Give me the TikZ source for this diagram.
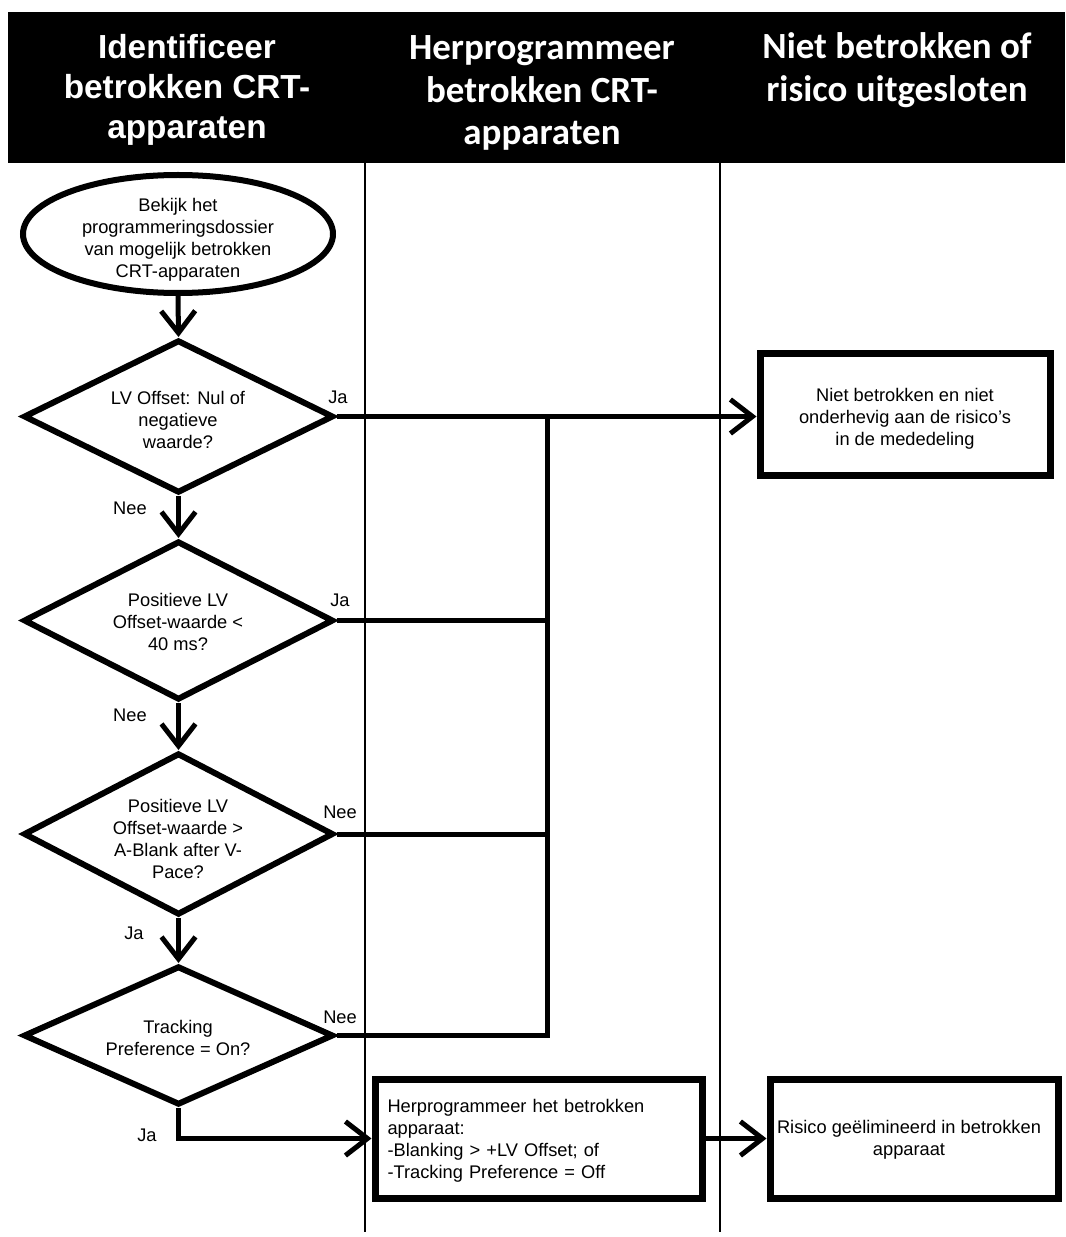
\documentclass[tikz,border=0pt]{standalone}
\usepackage{fontspec}
\setmainfont{Liberation Sans}
\newfontfamily\calib{Carlito}
\usetikzlibrary{shapes.geometric,arrows.meta}
\newdimen\pxu \pxu=0.75pt
\begin{document}
\begin{tikzpicture}[x=0.75pt,y=-0.75pt,
  conn/.style={line width=5\pxu},
  arr/.style={conn,-{Straight Barb[length=16.5pt,width=25.5pt]}},
  dia/.style={draw,diamond,line width=6\pxu,inner sep=0pt,minimum width=310\pxu},
  box/.style={draw,rectangle,line width=7\pxu,inner sep=0pt},
  body/.style={font=\fontsize{13.7pt}{16.5pt}\selectfont,align=center,inner sep=0pt},
  lbl/.style={font=\fontsize{13.7pt}{16.5pt}\selectfont,inner sep=0pt},
  hdA/.style={text=white,font=\fontsize{25pt}{30pt}\selectfont\bfseries,align=center,inner sep=0pt},
  hdB/.style={text=white,font=\fontsize{27.7pt}{32pt}\selectfont\calib\bfseries,align=center,inner sep=0pt},
  lane/.style={line width=1.5\pxu}]
\useasboundingbox (0,0) rectangle (1065,1237);
% header band
\fill[black] (8,12) rectangle (1065,163);
\node[hdA] (h1) at (187,90) {Identificeer\\betrokken CRT-\\apparaten};
\node[hdB] (h2) at (542,93) {Herprogrammeer\\betrokken CRT-\\apparaten};
\node[hdB] (h3) at (897,70) {Niet betrokken of\\risico uitgesloten};
% lanes
\draw[lane] (365,163) -- (365,1232);
\draw[lane] (720,163) -- (720,1232);
% shapes
\node[draw,ellipse,line width=6\pxu,minimum width=310\pxu,minimum height=118\pxu,inner sep=0pt] (ell) at (178,234) {};
\node[body] (tell) at (178,240) {Bekijk het\\programmeringsdossier\\van mogelijk betrokken\\CRT-apparaten};
\node[dia,minimum height=153\pxu] (d1) at (178.5,416.5) {};
\node[body] (td1) at (178,420) {LV Offset: Nul of\\negatieve\\waarde?};
\node[dia,minimum height=159\pxu] (d2) at (178.5,620.5) {};
\node[body] (td2) at (178,622) {Positieve LV\\Offset-waarde <\\40 ms?};
\node[dia,minimum height=162\pxu] (d3) at (178.5,834) {};
\node[body] (td3) at (178,839) {Positieve LV\\Offset-waarde >\\A-Blank after V-\\Pace?};
\node[dia,minimum height=139\pxu] (d4) at (178.5,1035.5) {};
\node[body] (td4) at (178,1038) {Tracking\\Preference = On?};
\node[box,minimum width=290\pxu,minimum height=122\pxu] (b1) at (905,414) {};
\node[body] (tb1) at (905,419) {Niet betrokken en niet\\onderhevig aan de risico’s\\in de mededeling};
\node[box,minimum width=327\pxu,minimum height=119\pxu] (b2) at (538.5,1138.5) {};
\node[body,align=left,text width=302\pxu] (tb2) at (538.5,1141) {Herprogrammeer het betrokken\\apparaat:\\-Blanking > +LV Offset; of\\-Tracking Preference = Off};
\node[box,minimum width=288\pxu,minimum height=119\pxu] (b3) at (914,1138.5) {};
\node[body] (tb3) at (909,1140) {Risico geëlimineerd in betrokken\\apparaat};
% junction coordinates
\coordinate (jt) at (547,416.5);
% connectors
\draw[arr] (ell.south) -- (d1.north);
\draw[arr] (d1.south) -- (d2.north);
\draw[arr] (d2.south) -- (d3.north);
\draw[arr] (d3.south) -- (d4.north);
\draw[arr] (d1.east) -- (b1.west |- d1.east);
\draw[conn] (d2.east) -- (d2.east -| jt);
\draw[conn] (d3.east) -- (d3.east -| jt);
\draw[conn,line join=miter] (d4.east) -- (d4.east -| jt) -- (jt);
\draw[arr] (d4.south) |- (b2.west);
\draw[arr] (b2.east) -- (b3.west);
% labels
\node[lbl] (l1) at (338,397) {Ja};
\node[lbl] (l2) at (130,508) {Nee};
\node[lbl] (l3) at (340,600) {Ja};
\node[lbl] (l4) at (130,715) {Nee};
\node[lbl] (l5) at (340,812) {Nee};
\node[lbl] (l6) at (134,933) {Ja};
\node[lbl] (l7) at (340,1017) {Nee};
\node[lbl] (l8) at (147,1135) {Ja};
\end{tikzpicture}
\end{document}
